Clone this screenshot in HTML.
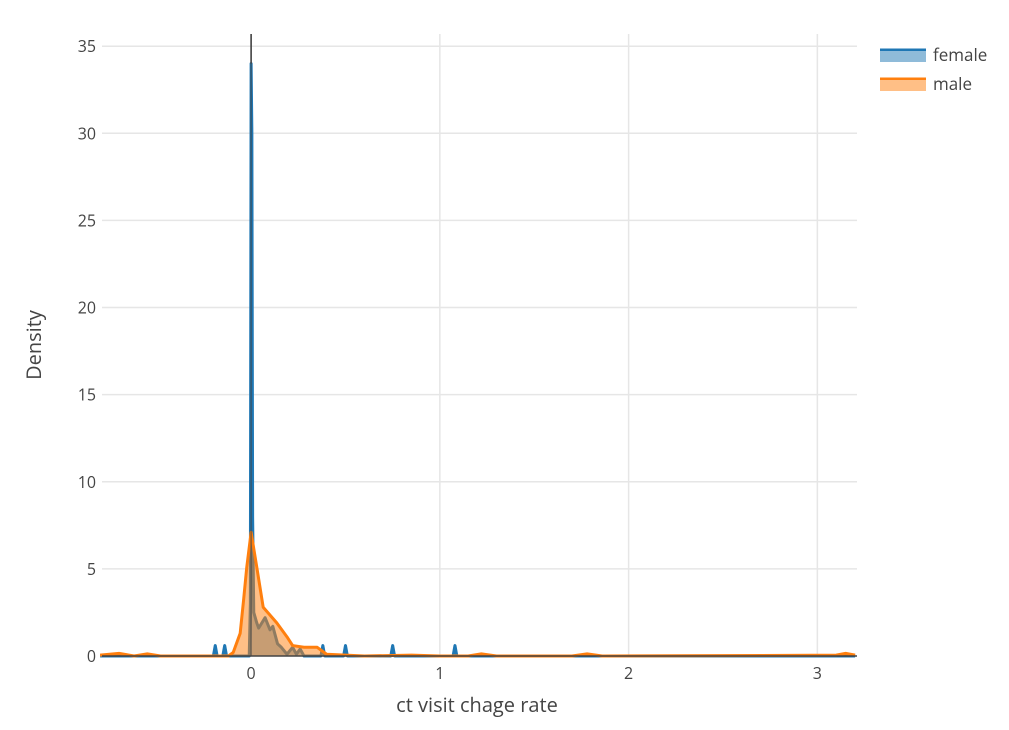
<!DOCTYPE html>
<html><head><meta charset="utf-8"><style>
body{margin:0;background:#fff;}
svg{display:block;font-family:"Open Sans","Liberation Sans",sans-serif;}
</style></head><body>
<svg id="chart" width="1009" height="730">
<g id="grid"></g>
<g id="marks"></g>
<g id="axes"></g>
<text x="477" y="712" text-anchor="middle" font-size="20" fill="#444">ct visit chage rate</text>
<text transform="translate(41,345) rotate(-90)" text-anchor="middle" font-size="20" fill="#444">Density</text>
<g>
<g>
<rect x="880" y="52" width="46" height="10" fill="rgba(31,119,180,0.5)"/>
<line x1="880" y1="50" x2="926" y2="50" stroke="#1f77b4" stroke-width="3"/>
<text x="933" y="61" font-size="17" fill="#444">female</text></g>
<g>
<rect x="880" y="81" width="46" height="10" fill="rgba(255,127,14,0.5)"/>
<line x1="880" y1="79" x2="926" y2="79" stroke="#ff7f0e" stroke-width="3"/>
<text x="933" y="90" font-size="17" fill="#444">male</text></g>
</g>
</svg>
<script>
const xTicks=[0,1,2,3];
const yTicks=[0,5,10,15,20,25,30,35];
const femaleX=[-0.8,-0.2,-0.19,-0.18,-0.15,-0.14,-0.13,-0.01,-0.004,0,0.004,0.008,0.014,0.03,0.04,0.074,0.1,0.115,0.14,0.16,0.19,0.22,0.24,0.26,0.28,0.37,0.38,0.39,0.49,0.5,0.51,0.74,0.75,0.76,1.07,1.08,1.09,3.2];
const femaleY=[0,0,0.6,0,0,0.6,0,0,3,34,30,8,2.5,1.9,1.6,2.2,1.5,1.7,0.7,0.5,0.1,0.5,0.1,0.4,0,0,0.6,0,0,0.6,0,0,0.6,0,0,0.6,0,0];
const maleX=[-0.8,-0.7,-0.62,-0.55,-0.48,-0.12,-0.095,-0.058,-0.04,-0.023,0,0.03,0.064,0.136,0.19,0.22,0.28,0.35,0.4,0.5,0.6,0.85,1.0,1.15,1.22,1.3,1.7,1.78,1.86,2.5,3.1,3.15,3.2];
const maleY=[0.05,0.15,0,0.12,0,0,0.2,1.3,3.2,5.1,7.1,5.1,2.8,1.9,1.1,0.6,0.5,0.5,0.1,0.05,0,0.05,0,0,0.12,0,0,0.12,0,0.02,0.05,0.15,0.05];
const X0=102,X1=857,Y0=656,Y1=34;
const xmin=-0.79,xmax=3.21,ymin=0,ymax=35.7;
const sx=v=>X0+(v-xmin)/(xmax-xmin)*(X1-X0);
const sy=v=>Y0-(v-ymin)/(ymax-ymin)*(Y0-Y1);
const NS='http://www.w3.org/2000/svg';
function mk(t,a,p){const e=document.createElementNS(NS,t);for(const k in a)e.setAttribute(k,a[k]);p.appendChild(e);return e;}
const grid=document.getElementById('grid'),axes=document.getElementById('axes'),marks=document.getElementById('marks');
yTicks.forEach(t=>{
 if(t>0){const l=mk('line',{x1:X0,x2:X1,y1:sy(t),y2:sy(t),stroke:'#e6e6e6','stroke-width':1.5},grid);
 
 }
 const tx=mk('text',{x:X0-6,y:sy(t)+6,'text-anchor':'end','font-size':16,fill:'#444'},axes);tx.textContent=t;
 
 
});
xTicks.forEach(t=>{
 if(t!==0){const l=mk('line',{x1:sx(t),x2:sx(t),y1:Y1,y2:Y0,stroke:'#e6e6e6','stroke-width':1.5},grid);
 
 }
 const tx=mk('text',{x:sx(t),y:Y0+23,'text-anchor':'middle','font-size':16,fill:'#444'},axes);tx.textContent=t;
 
 
});
function series(xs,ys,fill,stroke,name){
 let d='M'+sx(xs[0])+','+sy(0);
 xs.forEach((x,i)=>{d+=' L'+sx(x)+','+sy(ys[i]);});
 d+=' L'+sx(xs[xs.length-1])+','+sy(0)+' Z';
 const a=mk('path',{d:d,fill:fill,stroke:'none'},marks);
 
 
 let l='';xs.forEach((x,i)=>{l+=(i?' L':'M')+sx(x)+','+sy(ys[i]);});
 const p=mk('path',{d:l,fill:'none',stroke:stroke,'stroke-width':3,'stroke-linejoin':'round'},marks);
 
 
}
series(femaleX,femaleY,'rgba(31,119,180,0.5)','#1f77b4','female');
series(maleX,maleY,'rgba(255,127,14,0.5)','#ff7f0e','male');
const z=mk('line',{x1:sx(0),x2:sx(0),y1:Y1,y2:Y0,stroke:'#444','stroke-width':1.5,'stroke-opacity':0.6},axes);


const zt=mk('line',{x1:sx(0),x2:sx(0),y1:Y1,y2:sy(34),stroke:'#444','stroke-width':1.5},axes);


const b=mk('line',{x1:X0,x2:X1,y1:Y0,y2:Y0,stroke:'#444','stroke-width':1.5},axes);


</script>
</body></html>
